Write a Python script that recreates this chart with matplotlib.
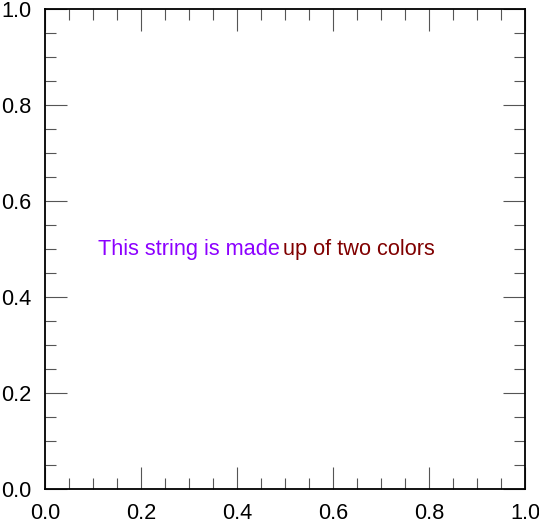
import matplotlib
matplotlib.use("Agg")
import matplotlib.pyplot as plt
from matplotlib.ticker import MultipleLocator

plt.rcParams['font.family'] = ['Liberation Sans', 'DejaVu Sans']

text_left = "This string is made"
text_right = "up of two colors"
color_left = "#8c00ff"
color_right = "#800000"
text_x = 0.5
text_y = 0.5

fig = plt.figure(figsize=(5.39, 5.22), dpi=100)
ax = fig.add_axes([45 / 539, 33 / 522, 480 / 539, 480 / 522])
ax.set_xlim(0, 1)
ax.set_ylim(0, 1)

ax.xaxis.set_major_locator(MultipleLocator(0.2))
ax.yaxis.set_major_locator(MultipleLocator(0.2))
ax.xaxis.set_minor_locator(MultipleLocator(0.05))
ax.yaxis.set_minor_locator(MultipleLocator(0.05))
ax.tick_params(which='both', direction='in', top=True, right=True,
               labelsize=15.7, width=0.8, color='#555555')
ax.tick_params(which='major', length=16, pad=10)
ax.tick_params(which='minor', length=8)
for s in ax.spines.values():
    s.set_linewidth(1.3)

ax.text(text_x - 0.011, text_y, text_left, color=color_left, fontsize=15.7, ha='right', va='center')
ax.text(text_x - 0.004, text_y, text_right, color=color_right, fontsize=15.7, ha='left', va='center')

fig.savefig("out.png", dpi=100)
